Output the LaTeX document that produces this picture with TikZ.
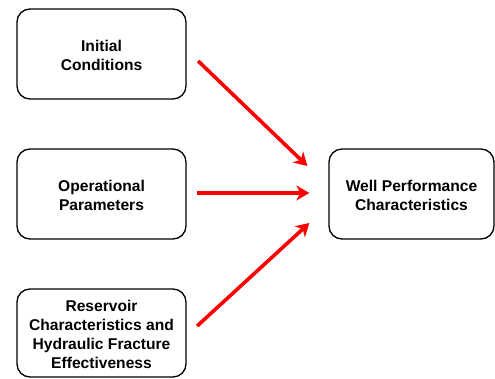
\documentclass[tikz,border=0pt]{standalone}
\usepackage{fontspec}
\setmainfont{Liberation Sans}
\usetikzlibrary{arrows.meta,calc}
\tikzset{
  box/.style={draw=black, line width=1.3pt, rounded corners=13pt, align=center,
    inner sep=0pt, font=\fontsize{15.6}{19}\selectfont\bfseries},
  redarrow/.style={draw=red, line width=3.6pt,
    -{Stealth[length=13pt, width=15pt, inset=4pt]}}
}
\begin{document}
\begin{tikzpicture}[x=1pt, y=-1pt]
\useasboundingbox (0,0) rectangle (495,378);
\node[box, minimum width=169pt, minimum height=90pt] (n1) at (101.5,54) {\rule{0pt}{14pt}Initial\\Conditions};
\node[box, minimum width=169pt, minimum height=90pt] (n2) at (101.5,194) {\rule{0pt}{14pt}Operational\\Parameters};
\node[box, minimum width=169pt, minimum height=88pt] (n3) at (101.5,333) {\rule{0pt}{14pt}Reservoir\\Characteristics and\\Hydraulic Fracture\\Effectiveness};
\node[box, minimum width=165pt, minimum height=90pt] (n4) at (411.5,194) {\rule{0pt}{14pt}Well Performance\\Characteristics};
\coordinate (s1) at ($(n1.east)+(11.5,7)$);
\coordinate (e1) at ($(n4.west)+(-21,-28)$);
\coordinate (s2) at ($(n2.east)+(10.5,-1)$);
\coordinate (e2) at ($(n4.west)+(-19,-1)$);
\coordinate (s3) at ($(n3.east)+(10.5,-7)$);
\coordinate (e3) at ($(n4.west)+(-19,29)$);
\draw[redarrow] (s1) -- (e1);
\draw[redarrow] (s2) -- (e2);
\draw[redarrow] (s3) -- (e3);
\end{tikzpicture}
\end{document}
